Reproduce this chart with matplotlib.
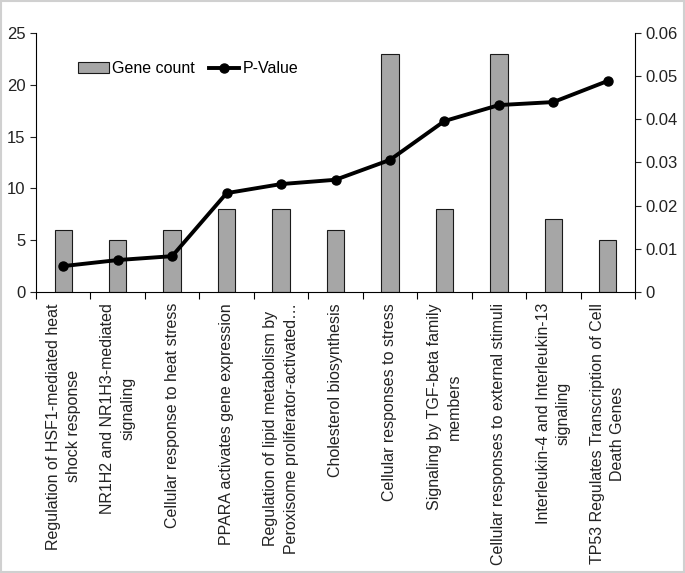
import matplotlib.pyplot as plt
import matplotlib.patches as mpatches

plt.rcParams['font.family'] = ['Liberation Sans', 'DejaVu Sans']

pathways = [
    "Regulation of HSF1-mediated heat\nshock response",
    "NR1H2 and NR1H3-mediated\nsignaling",
    "Cellular response to heat stress",
    "PPARA activates gene expression",
    "Regulation of lipid metabolism by\nPeroxisome proliferator-activated\u2026",
    "Cholesterol biosynthesis",
    "Cellular responses to stress",
    "Signaling by TGF-beta family\nmembers",
    "Cellular responses to external stimuli",
    "Interleukin-4 and Interleukin-13\nsignaling",
    "TP53 Regulates Transcription of Cell\nDeath Genes",
]
gene_count = [6, 5, 6, 8, 8, 6, 23, 8, 23, 7, 5]
p_value = [0.0060, 0.0074, 0.0083, 0.0229, 0.0250, 0.0260,
           0.0306, 0.0396, 0.0433, 0.0440, 0.0489]

fig = plt.figure(figsize=(6.85, 5.73), dpi=100)
ax = fig.add_axes([36/685, 1 - 292/573, (635 - 36)/685, (292 - 33)/573])
ax2 = ax.twinx()

x = list(range(len(pathways)))
bars = ax.bar(x, gene_count, width=0.32, color='#A6A6A6', edgecolor='#1a1a1a', linewidth=0.8,
              label='Gene count', zorder=2)
line, = ax2.plot(x, p_value, color='black', lw=2.8, marker='o', ms=6.5, label='P-Value', zorder=3)

ax.set_xlim(-0.5, len(pathways) - 0.5)
ax.set_ylim(0, 25)
ax.set_yticks([0, 5, 10, 15, 20, 25])
ax2.set_ylim(0, 0.06)
ax2.set_yticks([0, 0.01, 0.02, 0.03, 0.04, 0.05, 0.06])
ax2.set_yticklabels(['0', '0.01', '0.02', '0.03', '0.04', '0.05', '0.06'])

ax.set_xticks(x)
ax.set_xticklabels(pathways, rotation=90, ha='center', va='top', multialignment='center',
                   fontsize=11.5, color='#222222', linespacing=1.45)
ax.set_xticks([i + 0.5 for i in range(-1, len(pathways))], minor=True)
ax.tick_params(axis='x', which='major', length=0, pad=8)
ax.tick_params(axis='x', which='minor', length=5, width=0.8, direction='out')
ax.tick_params(axis='y', length=4, width=0.8, labelsize=12, colors='#222222')
ax2.tick_params(axis='y', length=4, width=0.8, labelsize=12, colors='#222222')

for a in (ax, ax2):
    a.spines['top'].set_visible(False)
    for s in ('left', 'right', 'bottom'):
        a.spines[s].set_linewidth(0.8)
ax.spines['right'].set_visible(False)
ax2.spines['left'].set_visible(False)
ax2.spines['bottom'].set_visible(False)

ax.legend([bars, line], ['Gene count', 'P-Value'], loc='upper left', bbox_to_anchor=(0.06, 0.915),
          ncol=2, frameon=False, fontsize=11.5, handlelength=1.9, handletextpad=0.2,
          columnspacing=0.9, borderaxespad=0)

fig.patches.append(mpatches.Rectangle((0.002, 0.002), 0.996, 0.996, transform=fig.transFigure,
                                      fill=False, edgecolor='#d0d0d0', linewidth=1.5))

fig.savefig('out.png', dpi=100)
